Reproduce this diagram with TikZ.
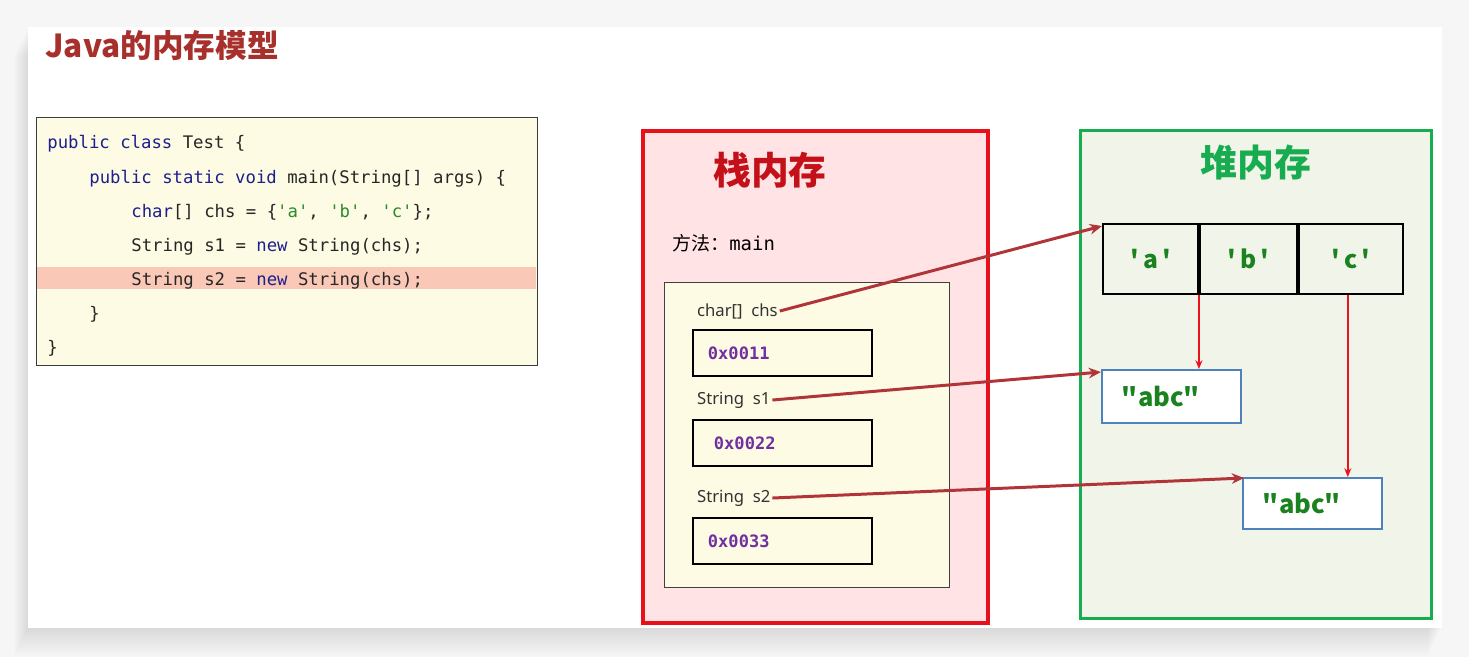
\documentclass[tikz,border=0pt]{standalone}
\usepackage{fontspec}
\setmainfont{Noto Sans}
\setmonofont{DejaVu Sans Mono}
\newfontfamily\cjk{Noto Sans CJK SC}
\usepackage{tikz}
\usetikzlibrary{arrows.meta, positioning, calc}
\definecolor{pagegray}{RGB}{246,246,246}
\definecolor{titlered}{RGB}{168,48,44}
\definecolor{codebg}{RGB}{253,251,228}
\definecolor{codeframe}{RGB}{60,60,60}
\definecolor{hilite}{RGB}{250,200,182}
\definecolor{kwblue}{RGB}{30,30,140}
\definecolor{chrgreen}{RGB}{40,140,40}
\definecolor{stackred}{RGB}{232,16,26}
\definecolor{stackfill}{RGB}{255,227,229}
\definecolor{stacktitle}{RGB}{196,16,24}
\definecolor{heapgreen}{RGB}{24,172,80}
\definecolor{heapfill}{RGB}{241,244,233}
\definecolor{addrpurple}{RGB}{112,48,160}
\definecolor{valgreen}{RGB}{26,130,30}
\definecolor{objblue}{RGB}{79,129,189}
\definecolor{refred}{RGB}{176,52,56}
\definecolor{linkred}{RGB}{235,20,30}
\newcommand{\kw}[1]{\textcolor{kwblue}{#1}}
\newcommand{\chv}[1]{\textcolor{chrgreen}{\textquotesingle#1\textquotesingle}}
\newcommand{\cq}[1]{\textquotesingle\,#1\,\textquotesingle}
\tikzset{
  codeline/.style={anchor=base west, inner sep=0pt,
    font=\fontsize{9.85}{12}\selectfont\ttfamily, text=black!85},
  memframe/.style={anchor=north west, inner sep=0pt, line width=2.2pt},
  varlabel/.style={anchor=west, inner sep=1pt,
    font=\fontsize{9.5}{11}\selectfont, text=black!80},
  addrbox/.style={anchor=north west, draw=black, line width=1.1pt, fill=codebg,
    minimum height=0.92cm, text width=2.98cm, inner xsep=0.3cm, align=left,
    font=\fontsize{9.7}{11}\selectfont\ttfamily\bfseries, text=addrpurple},
  cell/.style={draw=black, line width=1.1pt, minimum height=1.4cm, inner sep=0pt,
    font=\fontsize{14}{16}\selectfont\cjk\bfseries, text=valgreen},
  objbox/.style={anchor=north west, draw=objblue, line width=1.1pt, fill=white,
    text width=1.98cm, inner xsep=0.4cm, align=left,
    font=\fontsize{14.5}{16}\selectfont\cjk\bfseries, text=valgreen},
  refarrow/.style={-{Stealth[length=7pt, width=6pt]}, line width=1.7pt, refred},
  linkarrow/.style={-{Stealth[length=5pt, width=4pt]}, line width=0.8pt, linkred}
}

\begin{document}
\begin{tikzpicture}[x=0.02cm, y=-0.02cm]
  \useasboundingbox (0,0) rectangle (1469,657);
  % page and slide
  \fill[pagegray] (0,0) rectangle (1469,657);
  \foreach \d in {1,...,14}
    \fill[black, opacity=0.007] (28-\d,27+2*\d) rectangle (1442-\d,628+2*\d);
  \fill[white] (28,27) rectangle (1442,628);

  \node[anchor=west, inner sep=0pt, font=\fontsize{18}{20}\selectfont\cjk\bfseries,
    text=titlered] (title) at (45,45) {Java的内存模型};

  % source code
  \node[anchor=north west, draw=codeframe, line width=0.7pt, fill=codebg,
    minimum width=10.02cm, minimum height=4.96cm, inner sep=0pt] (code) at (36,117) {};
  \fill[hilite] (37,267) rectangle (536,289);
  \node[codeline] (l1) at (47,148) {\kw{public class} Test \{};
  \node[codeline] (l2) at (89,183) {\kw{public static void} main(String[] args) \{};
  \node[codeline] (l3) at (131,217) {\kw{char}[] chs = \{\chv{a}, \chv{b}, \chv{c}\};};
  \node[codeline] (l4) at (131,251) {String s1 = \kw{new} String(chs);};
  \node[codeline] (l5) at (131,285) {String s2 = \kw{new} String(chs);};
  \node[codeline] (l6) at (89,319) {\}};
  \node[codeline] (l7) at (47,353) {\}};

  % stack
  \node[memframe, draw=stackred, fill=stackfill, minimum width=6.9cm,
    minimum height=9.84cm] (stack) at (641,129) {};
  \node[font=\fontsize{21.5}{24}\selectfont\cjk\bfseries, text=stacktitle]
    (stackttl) at (770,170) {栈内存};
  \node[anchor=west, inner sep=0pt, font=\fontsize{10.8}{13}\selectfont]
    (meth) at (672,243) {{\cjk 方法：}\texttt{main}};
  \node[anchor=north west, draw=black!75, line width=0.6pt, fill=codebg,
    minimum width=5.7cm, minimum height=6.1cm, inner sep=0pt] (frame) at (664,282) {};
  \node[varlabel] (chs) at (695,311) {char[]\ \ chs};
  \node[addrbox] (adda) at (692,329) {0x0011};
  \node[varlabel] (sa) at (695,400) {String\ \ s1};
  \node[addrbox] (addb) at (692,419) {\hspace*{0.12cm}0x0022};
  \node[varlabel] (sb) at (695,498) {String\ \ s2};
  \node[addrbox] (addc) at (692,517) {0x0033};

  % heap
  \node[memframe, draw=heapgreen, fill=heapfill, line width=1.9pt,
    minimum width=7.02cm, minimum height=9.76cm] (heap) at (1079,129) {};
  \node[font=\fontsize{21}{24}\selectfont\cjk\bfseries, text=heapgreen]
    (heapttl) at (1256,162) {堆内存};
  \node[cell, anchor=north west, minimum width=1.9cm] (ca) at (1102,223) {\cq{a}};
  \node[cell, minimum width=1.94cm, right=0pt of ca] (cb) {\cq{b}};
  \node[cell, minimum width=2.08cm, right=0pt of cb] (cc) {\cq{c}};
  \node[objbox, minimum height=1.06cm] (obja) at (1101,369) {\textquotedbl abc\textquotedbl};
  \node[objbox, minimum height=1.02cm] (objb) at (1242,477) {\textquotedbl abc\textquotedbl};

  % references
  \draw[refarrow] (chs.east) -- ($(ca.north west)+(0,3)$);
  \draw[refarrow] (sa.east) -- ($(obja.north west)+(0,3)$);
  \draw[refarrow] (sb.east) -- ($(objb.north west)+(2,1)$);
  \draw[linkarrow] (ca.south east) -- (ca.south east |- obja.north);
  \draw[linkarrow] ([xshift=-0.06cm]cc.south) -- ([xshift=-0.06cm]cc.south |- objb.north);
\end{tikzpicture}
\end{document}
